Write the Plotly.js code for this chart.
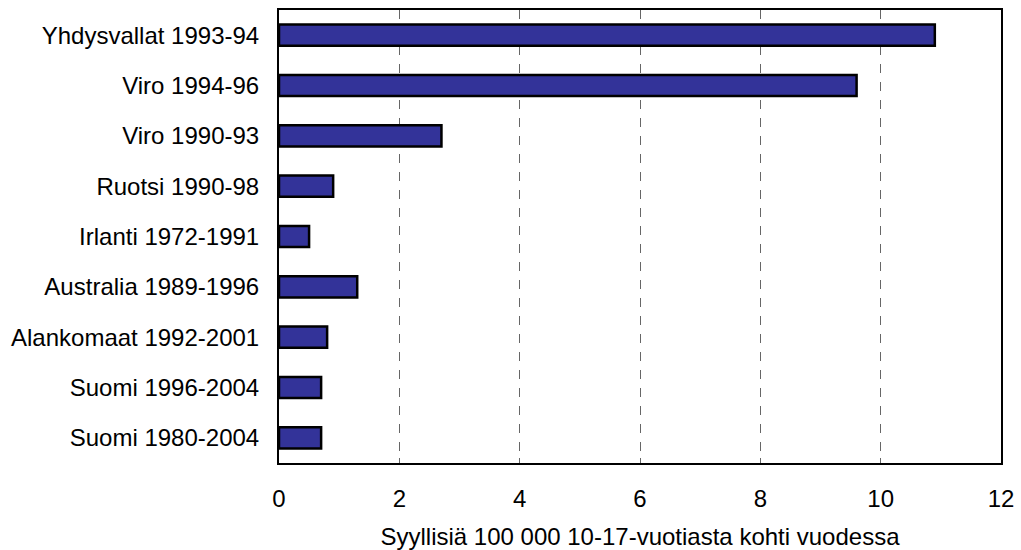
<!DOCTYPE html>
<html>
<head>
<meta charset="utf-8">
<script src="https://cdn.plot.ly/plotly-3.0.1.min.js"></script>
<style>html,body{margin:0;padding:0;background:#fff;}#chart{width:1021px;height:550px;}</style>
</head>
<body>
<div id="chart"></div>
<script>
const categories = ["Yhdysvallat 1993-94","Viro 1994-96","Viro 1990-93","Ruotsi 1990-98","Irlanti 1972-1991","Australia 1989-1996","Alankomaat 1992-2001","Suomi 1996-2004","Suomi 1980-2004"];
const values = [10.9, 9.6, 2.7, 0.9, 0.5, 1.3, 0.8, 0.7, 0.7];
const xTicks = [0, 2, 4, 6, 8, 10, 12];
const xTitle = "Syyllisiä 100 000 10-17-vuotiasta kohti vuodessa";

const font = {family: "Liberation Sans, Arial, sans-serif", size: 24, color: "#000"};
Plotly.newPlot("chart", [{
  type: "bar",
  orientation: "h",
  y: categories,
  x: values,
  width: 0.42,
  marker: {color: "#333399", line: {color: "#000", width: 2.5}},
  hoverinfo: "none"
}], {
  width: 1021, height: 550,
  margin: {l: 279, r: 20, t: 10, b: 87},
  paper_bgcolor: "#fff", plot_bgcolor: "#fff",
  font: font,
  showlegend: false,
  xaxis: {
    range: [0, 12], tickvals: xTicks, ticktext: xTicks.map(String),
    showgrid: true, gridcolor: "#666", griddash: "dash", gridwidth: 1,
    zeroline: false, showline: true, linecolor: "#000", linewidth: 2, mirror: true,
    ticks: "inside", ticklen: 5, tickcolor: "#666", ticklabelstandoff: 13,
    tickfont: font,
    title: {text: xTitle, font: font, standoff: 18}
  },
  yaxis: {
    categoryorder: "array", categoryarray: categories, autorange: "reversed",
    showgrid: false, zeroline: false, showline: true, linecolor: "#000", linewidth: 2, mirror: true,
    ticks: "", ticklabelstandoff: 13, tickfont: font
  }
}, {displayModeBar: false, staticPlot: true});
</script>
</body>
</html>
